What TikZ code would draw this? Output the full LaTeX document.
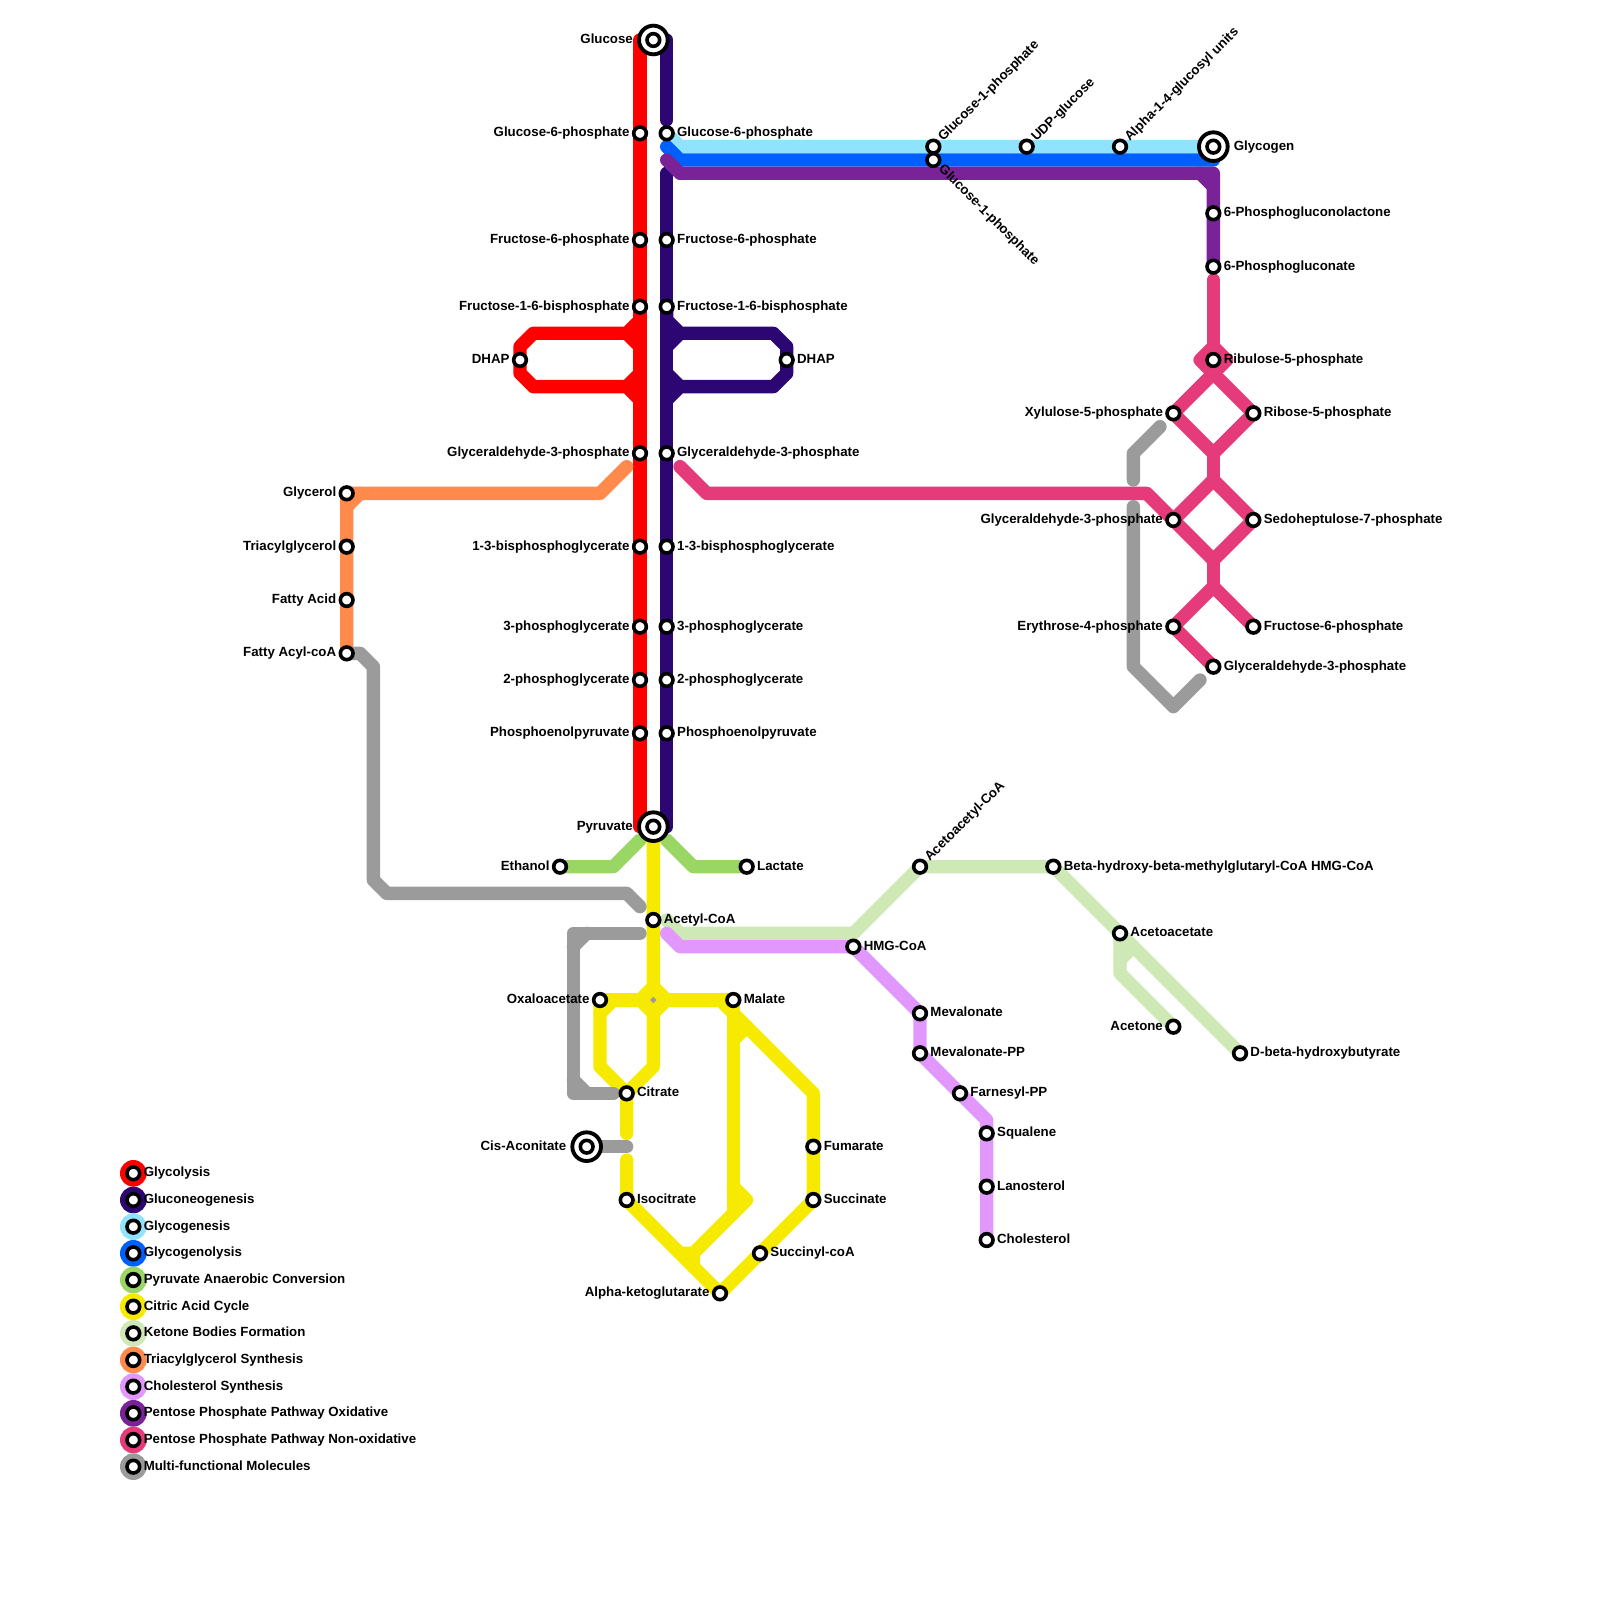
\documentclass[tikz,border=0pt]{standalone}
\usepackage{fontspec}
\setmainfont{Liberation Sans}
\usepackage{xcolor}
\usepackage{tikz}
\usetikzlibrary{backgrounds}
\definecolor{linered}{HTML}{FF0000}
\definecolor{lineindigo}{HTML}{2C0672}
\definecolor{lineice}{HTML}{90E3FD}
\definecolor{lineblue}{HTML}{0060FF}
\definecolor{linegreen}{HTML}{99D663}
\definecolor{lineyellow}{HTML}{F6EB00}
\definecolor{linepale}{HTML}{CEE8B6}
\definecolor{lineorange}{HTML}{FF8A4C}
\definecolor{linelilac}{HTML}{E297FC}
\definecolor{linepurple}{HTML}{7A2298}
\definecolor{linepink}{HTML}{E63B7A}
\definecolor{linegrey}{HTML}{9B9B9B}

\begin{document}
\begin{tikzpicture}[
    x=0.2cm, y=-0.2cm,
    route/.style={draw=#1, line width=0.2cm, line cap=round, line join=round},
    stn/.style={circle, draw=black, fill=white, line width=0.054cm, minimum size=0.19cm, inner sep=0pt},
    hub/.style={circle, draw=black, fill=white, line width=0.058cm, minimum size=0.43cm, inner sep=0pt},
    keydot/.style={circle, fill=#1, minimum size=0.4cm, inner sep=0pt},
    tag/.style={font=\bfseries\fontsize{5.67}{6.8}\selectfont, inner sep=0pt},
    tagr/.style={tag, anchor=base west, xshift=0.15cm, yshift=-0.054cm},
    tagl/.style={tag, anchor=base east, xshift=-0.15cm, yshift=-0.054cm},
    tagrr/.style={tag, anchor=base west, xshift=0.3cm, yshift=-0.054cm},
    tagll/.style={tag, anchor=base east, xshift=-0.3cm, yshift=-0.054cm},
    tagup/.style={tag, anchor=base west, xshift=0.144cm, yshift=0.068cm, rotate=45},
    tagdown/.style={tag, anchor=base west, xshift=0.068cm, yshift=-0.144cm, rotate=-45},
]
    \useasboundingbox (0,0) rectangle (120,120);

    % Glycolysis stations
    \node[hub] (glucose) at (49,3) {};
    \node[stn] (glucosein) at (glucose) {};
    \node[tagll] (glucosetag) at (glucose) {Glucose};
    \node[stn] (redgsix) at (48,10) {};
    \node[tagl] (redgsixtag) at (redgsix) {Glucose-6-phosphate};
    \node[stn] (redfsix) at (48,18) {};
    \node[tagl] (redfsixtag) at (redfsix) {Fructose-6-phosphate};
    \node[stn] (redfbp) at (48,23) {};
    \node[tagl] (redfbptag) at (redfbp) {Fructose-1-6-bisphosphate};
    \node[stn] (reddhap) at (39,27) {};
    \node[tagl] (reddhaptag) at (reddhap) {DHAP};
    \node[stn] (redgap) at (48,34) {};
    \node[tagl] (redgaptag) at (redgap) {Glyceraldehyde-3-phosphate};
    \node[stn] (redbpg) at (48,41) {};
    \node[tagl] (redbpgtag) at (redbpg) {1-3-bisphosphoglycerate};
    \node[stn] (redthree) at (48,47) {};
    \node[tagl] (redthreetag) at (redthree) {3-phosphoglycerate};
    \node[stn] (redtwo) at (48,51) {};
    \node[tagl] (redtwotag) at (redtwo) {2-phosphoglycerate};
    \node[stn] (redpep) at (48,55) {};
    \node[tagl] (redpeptag) at (redpep) {Phosphoenolpyruvate};
    \node[hub] (pyruvate) at (49,62) {};
    \node[stn] (pyruvatein) at (pyruvate) {};
    \node[tagll] (pyruvatetag) at (pyruvate) {Pyruvate};

    % Gluconeogenesis stations
    \node[stn] (indgsix) at (50,10) {};
    \node[tagr] (indgsixtag) at (indgsix) {Glucose-6-phosphate};
    \node[stn] (indfsix) at (50,18) {};
    \node[tagr] (indfsixtag) at (indfsix) {Fructose-6-phosphate};
    \node[stn] (indfbp) at (50,23) {};
    \node[tagr] (indfbptag) at (indfbp) {Fructose-1-6-bisphosphate};
    \node[stn] (inddhap) at (59,27) {};
    \node[tagr] (inddhaptag) at (inddhap) {DHAP};
    \node[stn] (indgap) at (50,34) {};
    \node[tagr] (indgaptag) at (indgap) {Glyceraldehyde-3-phosphate};
    \node[stn] (indbpg) at (50,41) {};
    \node[tagr] (indbpgtag) at (indbpg) {1-3-bisphosphoglycerate};
    \node[stn] (indthree) at (50,47) {};
    \node[tagr] (indthreetag) at (indthree) {3-phosphoglycerate};
    \node[stn] (indtwo) at (50,51) {};
    \node[tagr] (indtwotag) at (indtwo) {2-phosphoglycerate};
    \node[stn] (indpep) at (50,55) {};
    \node[tagr] (indpeptag) at (indpep) {Phosphoenolpyruvate};

    % Glycogen stations
    \node[stn] (gonetop) at (70,11) {};
    \node[tagup] (gonetoptag) at (gonetop) {Glucose-1-phosphate};
    \node[stn] (gonelow) at (70,12) {};
    \node[tagdown] (gonelowtag) at (gonelow) {Glucose-1-phosphate};
    \node[stn] (udpg) at (77,11) {};
    \node[tagup] (udpgtag) at (udpg) {UDP-glucose};
    \node[stn] (alphaunits) at (84,11) {};
    \node[tagup] (alphaunitstag) at (alphaunits) {Alpha-1-4-glucosyl units};
    \node[hub] (glycogen) at (91,11) {};
    \node[stn] (glycogenin) at (glycogen) {};
    \node[tagrr] (glycogentag) at (glycogen) {Glycogen};

    % Pentose phosphate stations
    \node[stn] (lactone) at (91,16) {};
    \node[tagr] (lactonetag) at (lactone) {6-Phosphogluconolactone};
    \node[stn] (gluconate) at (91,20) {};
    \node[tagr] (gluconatetag) at (gluconate) {6-Phosphogluconate};
    \node[stn] (ribulose) at (91,27) {};
    \node[tagr] (ribulosetag) at (ribulose) {Ribulose-5-phosphate};
    \node[stn] (xylulose) at (88,31) {};
    \node[tagl] (xylulosetag) at (xylulose) {Xylulose-5-phosphate};
    \node[stn] (ribose) at (94,31) {};
    \node[tagr] (ribosetag) at (ribose) {Ribose-5-phosphate};
    \node[stn] (pinkgap) at (88,39) {};
    \node[tagl] (pinkgaptag) at (pinkgap) {Glyceraldehyde-3-phosphate};
    \node[stn] (sedo) at (94,39) {};
    \node[tagr] (sedotag) at (sedo) {Sedoheptulose-7-phosphate};
    \node[stn] (erythrose) at (88,47) {};
    \node[tagl] (erythrosetag) at (erythrose) {Erythrose-4-phosphate};
    \node[stn] (pinkfsix) at (94,47) {};
    \node[tagr] (pinkfsixtag) at (pinkfsix) {Fructose-6-phosphate};
    \node[stn] (lastgap) at (91,50) {};
    \node[tagr] (lastgaptag) at (lastgap) {Glyceraldehyde-3-phosphate};

    % Triacylglycerol stations
    \node[stn] (glycerol) at (26,37) {};
    \node[tagl] (glyceroltag) at (glycerol) {Glycerol};
    \node[stn] (triacyl) at (26,41) {};
    \node[tagl] (triacyltag) at (triacyl) {Triacylglycerol};
    \node[stn] (fatty) at (26,45) {};
    \node[tagl] (fattytag) at (fatty) {Fatty Acid};
    \node[stn] (fattycoa) at (26,49) {};
    \node[tagl] (fattycoatag) at (fattycoa) {Fatty Acyl-coA};

    % Anaerobic and citric acid stations
    \node[stn] (ethanol) at (42,65) {};
    \node[tagl] (ethanoltag) at (ethanol) {Ethanol};
    \node[stn] (lactate) at (56,65) {};
    \node[tagr] (lactatetag) at (lactate) {Lactate};
    \node[stn] (acetyl) at (49,69) {};
    \node[tagr] (acetyltag) at (acetyl) {Acetyl-CoA};
    \node[stn] (oxalo) at (45,75) {};
    \node[tagl] (oxalotag) at (oxalo) {Oxaloacetate};
    \node[stn] (malate) at (55,75) {};
    \node[tagr] (malatetag) at (malate) {Malate};
    \node[stn] (citrate) at (47,82) {};
    \node[tagr] (citratetag) at (citrate) {Citrate};
    \node[hub] (aconitate) at (44,86) {};
    \node[stn] (aconitatein) at (aconitate) {};
    \node[tagll] (aconitatetag) at (aconitate) {Cis-Aconitate};
    \node[stn] (isocitrate) at (47,90) {};
    \node[tagr] (isocitratetag) at (isocitrate) {Isocitrate};
    \node[stn] (fumarate) at (61,86) {};
    \node[tagr] (fumaratetag) at (fumarate) {Fumarate};
    \node[stn] (succinate) at (61,90) {};
    \node[tagr] (succinatetag) at (succinate) {Succinate};
    \node[stn] (succinyl) at (57,94) {};
    \node[tagr] (succinyltag) at (succinyl) {Succinyl-coA};
    \node[stn] (ketoglut) at (54,97) {};
    \node[tagl] (ketoglutag) at (ketoglut) {Alpha-ketoglutarate};

    % Ketone and cholesterol stations
    \node[stn] (hmgcoa) at (64,71) {};
    \node[tagr] (hmgcoatag) at (hmgcoa) {HMG-CoA};
    \node[stn] (acetoacetyl) at (69,65) {};
    \node[tagup] (acetoacetyltag) at (acetoacetyl) {Acetoacetyl-CoA};
    \node[stn] (betahmg) at (79,65) {};
    \node[tagr] (betahmgtag) at (betahmg) {Beta-hydroxy-beta-methylglutaryl-CoA HMG-CoA};
    \node[stn] (acetoacetate) at (84,70) {};
    \node[tagr] (acetoacetatetag) at (acetoacetate) {Acetoacetate};
    \node[stn] (acetone) at (88,77) {};
    \node[tagl] (acetonetag) at (acetone) {Acetone};
    \node[stn] (dbeta) at (93,79) {};
    \node[tagr] (dbetatag) at (dbeta) {D-beta-hydroxybutyrate};
    \node[stn] (mevalonate) at (69,76) {};
    \node[tagr] (mevalonatetag) at (mevalonate) {Mevalonate};
    \node[stn] (mevalonpp) at (69,79) {};
    \node[tagr] (mevalonpptag) at (mevalonpp) {Mevalonate-PP};
    \node[stn] (farnesyl) at (72,82) {};
    \node[tagr] (farnesyltag) at (farnesyl) {Farnesyl-PP};
    \node[stn] (squalene) at (74,85) {};
    \node[tagr] (squalenetag) at (squalene) {Squalene};
    \node[stn] (lanosterol) at (74,89) {};
    \node[tagr] (lanosteroltag) at (lanosterol) {Lanosterol};
    \node[stn] (cholesterol) at (74,93) {};
    \node[tagr] (cholesteroltag) at (cholesterol) {Cholesterol};

    % Free line ends
    \coordinate (redtop) at (48,3);
    \coordinate (redend) at (48,62);
    \coordinate (indtop) at (50,3);
    \coordinate (indstop) at (50,9);
    \coordinate (indback) at (50,13);
    \coordinate (indend) at (50,62);
    \coordinate (blustart) at (50,11);
    \coordinate (bluend) at (91,12);
    \coordinate (purstart) at (50,12);
    \coordinate (pnktop) at (91,21);
    \coordinate (pnkstart) at (51,35);
    \coordinate (orgstart) at (47,35);
    \coordinate (grnleft) at (48,63);
    \coordinate (grnright) at (50,63);
    \coordinate (yelstop) at (47,85);
    \coordinate (yelback) at (47,87);
    \coordinate (palestart) at (50,69);
    \coordinate (lilstart) at (50,70);
    \coordinate (gryone) at (48,68);
    \coordinate (grytwo) at (48,70);
    \coordinate (grytwoend) at (46,82);
    \coordinate (grycis) at (47,86);
    \coordinate (gryup) at (87,32);
    \coordinate (gryupend) at (85,36);
    \coordinate (grylow) at (85,38);
    \coordinate (grylowend) at (90,51);

    \begin{scope}[on background layer]
        % Glycolysis
        \draw[route=linered] (redtop) -- (redgsix.center) -- (redfsix.center) -- (redfbp.center) -- (redgap.center) -- (redbpg.center) -- (redthree.center) -- (redtwo.center) -- (redpep.center) -- (redend);
        \draw[route=linered] (redfbp.center) -- (48,24) -- (47,25) -- (40,25) -- (39,26) -- (reddhap.center) -- (39,28) -- (40,29) -- (47,29) -- (48,30);
        \draw[route=linered] (48,26) -- (47,25);
        \draw[route=linered] (48,28) -- (47,29);

        % Gluconeogenesis
        \draw[route=lineindigo] (indtop) -- (indstop);
        \draw[route=lineindigo] (indback) -- (indfsix.center) -- (indfbp.center) -- (indgap.center) -- (indbpg.center) -- (indthree.center) -- (indtwo.center) -- (indpep.center) -- (indend);
        \draw[route=lineindigo] (indfbp.center) -- (50,24) -- (51,25) -- (58,25) -- (59,26) -- (inddhap.center) -- (59,28) -- (58,29) -- (51,29) -- (50,30);
        \draw[route=lineindigo] (50,26) -- (51,25);
        \draw[route=lineindigo] (50,28) -- (51,29);

        % Glycogenesis, glycogenolysis
        \draw[route=lineice] (indgsix.center) -- (51,11) -- (gonetop.center) -- (udpg.center) -- (alphaunits.center) -- (glycogen.center);
        \draw[route=lineblue] (blustart) -- (51,12) -- (gonelow.center) -- (bluend);

        % Pyruvate anaerobic conversion
        \draw[route=linegreen] (grnleft) -- (46,65) -- (ethanol.center);
        \draw[route=linegreen] (grnright) -- (52,65) -- (lactate.center);

        % Citric acid cycle
        \draw[route=lineyellow] (pyruvate.center) -- (acetyl.center) -- (49,80) -- (citrate.center) -- (yelstop);
        \draw[route=lineyellow] (oxalo.center) -- (malate.center);
        \draw[route=lineyellow] (49,74) -- (48,75) -- (49,76) -- (50,75) -- cycle;
        \draw[route=lineyellow] (oxalo.center) -- (45,80) -- (citrate.center);
        \draw[route=lineyellow] (45,76) -- (46,75);
        \draw[route=lineyellow] (54,75) -- (55,76) -- (61,82) -- (fumarate.center) -- (succinate.center) -- (succinyl.center) -- (ketoglut.center);
        \draw[route=lineyellow] (malate.center) -- (55,91);
        \draw[route=lineyellow] (55,78) -- (56,77);
        \draw[route=lineyellow] (55,89) -- (56,90) -- (52,94) -- (51,94);
        \draw[route=lineyellow] (52,94) -- (52,95);
        \draw[route=lineyellow] (yelback) -- (isocitrate.center) -- (ketoglut.center);

        % Ketone bodies
        \draw[route=linepale] (palestart) -- (51,70) -- (64,70) -- (acetoacetyl.center) -- (betahmg.center) -- (acetoacetate.center) -- (dbeta.center);
        \draw[route=linepale] (acetoacetate.center) -- (84,73) -- (acetone.center);
        \draw[route=linepale] (84,72) -- (85,71);

        % Triacylglycerol
        \draw[route=lineorange] (orgstart) -- (45,37) -- (glycerol.center) -- (triacyl.center) -- (fatty.center) -- (fattycoa.center);
        \draw[route=lineorange] (27,37) -- (26,38);

        % Cholesterol
        \draw[route=linelilac] (lilstart) -- (51,71) -- (hmgcoa.center) -- (mevalonate.center) -- (mevalonpp.center) -- (farnesyl.center) -- (74,84) -- (squalene.center) -- (lanosterol.center) -- (cholesterol.center);

        % Pentose phosphate
        \draw[route=linepurple] (purstart) -- (51,13) -- (91,13) -- (lactone.center) -- (gluconate.center);
        \draw[route=linepurple] (90,13) -- (91,14);
        \draw[route=linepink] (pnktop) -- (ribulose.center) -- (91,28);
        \draw[route=linepink] (91,26) -- (90,27) -- (91,28) -- (92,27) -- cycle;
        \draw[route=linepink] (91,28) -- (xylulose.center) -- (91,34) -- (ribose.center) -- cycle;
        \draw[route=linepink] (91,34) -- (91,36);
        \draw[route=linepink] (91,36) -- (pinkgap.center) -- (91,42) -- (sedo.center) -- cycle;
        \draw[route=linepink] (91,42) -- (91,44);
        \draw[route=linepink] (pinkfsix.center) -- (91,44) -- (erythrose.center) -- (lastgap.center);
        \draw[route=linepink] (pnkstart) -- (53,37) -- (86,37) -- (pinkgap.center);

        % Multi-functional molecules
        \draw[route=linegrey] (fattycoa.center) -- (27,49) -- (28,50) -- (28,66) -- (29,67) -- (47,67) -- (gryone);
        \draw[route=linegrey] (grytwo) -- (43,70) -- (43,82) -- (grytwoend);
        \draw[route=linegrey] (44,70) -- (43,71);
        \draw[route=linegrey] (43,81) -- (44,82);
        \draw[route=linegrey] (aconitate.center) -- (grycis);
        \draw[route=linegrey] (gryup) -- (85,34) -- (gryupend);
        \draw[route=linegrey] (grylow) -- (85,50) -- (88,53) -- (grylowend);
        \fill[linegrey] (49,74.75) -- (49.25,75) -- (49,75.25) -- (48.75,75) -- cycle;
    \end{scope}

    % Legend
    \node[keydot=linered] (keyred) at (10,88) {};
    \node[stn] (keyredin) at (keyred) {};
    \node[tagr] (keyredtag) at (keyred) {Glycolysis};
    \node[keydot=lineindigo] (keyindigo) at (10,90) {};
    \node[stn] (keyindigoin) at (keyindigo) {};
    \node[tagr] (keyindigotag) at (keyindigo) {Gluconeogenesis};
    \node[keydot=lineice] (keyice) at (10,92) {};
    \node[stn] (keyicein) at (keyice) {};
    \node[tagr] (keyicetag) at (keyice) {Glycogenesis};
    \node[keydot=lineblue] (keyblue) at (10,94) {};
    \node[stn] (keybluein) at (keyblue) {};
    \node[tagr] (keybluetag) at (keyblue) {Glycogenolysis};
    \node[keydot=linegreen] (keygreen) at (10,96) {};
    \node[stn] (keygreenin) at (keygreen) {};
    \node[tagr] (keygreentag) at (keygreen) {Pyruvate Anaerobic Conversion};
    \node[keydot=lineyellow] (keyyellow) at (10,98) {};
    \node[stn] (keyyellowin) at (keyyellow) {};
    \node[tagr] (keyyellowtag) at (keyyellow) {Citric Acid Cycle};
    \node[keydot=linepale] (keypale) at (10,100) {};
    \node[stn] (keypalein) at (keypale) {};
    \node[tagr] (keypaletag) at (keypale) {Ketone Bodies Formation};
    \node[keydot=lineorange] (keyorange) at (10,102) {};
    \node[stn] (keyorangein) at (keyorange) {};
    \node[tagr] (keyorangetag) at (keyorange) {Triacylglycerol Synthesis};
    \node[keydot=linelilac] (keylilac) at (10,104) {};
    \node[stn] (keylilacin) at (keylilac) {};
    \node[tagr] (keylilactag) at (keylilac) {Cholesterol Synthesis};
    \node[keydot=linepurple] (keypurple) at (10,106) {};
    \node[stn] (keypurplein) at (keypurple) {};
    \node[tagr] (keypurpletag) at (keypurple) {Pentose Phosphate Pathway Oxidative};
    \node[keydot=linepink] (keypink) at (10,108) {};
    \node[stn] (keypinkin) at (keypink) {};
    \node[tagr] (keypinktag) at (keypink) {Pentose Phosphate Pathway Non-oxidative};
    \node[keydot=linegrey] (keygrey) at (10,110) {};
    \node[stn] (keygreyin) at (keygrey) {};
    \node[tagr] (keygreytag) at (keygrey) {Multi-functional Molecules};
\end{tikzpicture}
\end{document}
